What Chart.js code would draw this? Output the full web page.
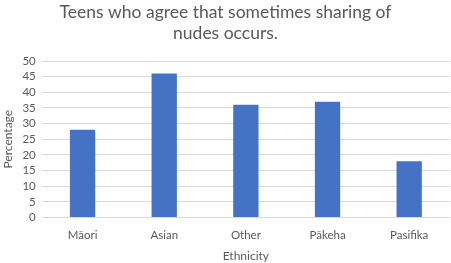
<!DOCTYPE html>
<html>
<head>
<meta charset="utf-8">
<script src="https://cdn.jsdelivr.net/npm/chart.js@4"></script>
<style>
  body { margin: 0; background: #fff; }
  #wrap { width: 451px; height: 263px; }
</style>
</head>
<body>
<div id="wrap"><canvas id="chart"></canvas></div>
<script>
// chart data
const categories = ['Māori', 'Asian', 'Other', 'Pākeha', 'Pasifika'];
const percentages = [28, 46, 36, 37, 18];
const yTicks = [0, 5, 10, 15, 20, 25, 30, 35, 40, 45, 50];

const textColor = '#595959';
const fontFamily = 'Lato, "Open Sans", sans-serif';

const ctx = document.getElementById('chart').getContext('2d');
new Chart(ctx, {
    type: 'bar',
    data: {
        labels: categories,
        datasets: [{
            data: percentages,
            backgroundColor: '#4472C4',
            barPercentage: 0.62,
            categoryPercentage: 0.5
        }]
    },
    options: {
        responsive: true,
        maintainAspectRatio: false,
        animation: false,
        layout: { padding: { left: 1, right: 1, top: 0, bottom: 1 } },
        plugins: {
            legend: { display: false },
            tooltip: { enabled: false },
            title: {
                display: true,
                text: ['Teens who agree that sometimes sharing of', 'nudes occurs.'],
                color: textColor,
                font: { family: fontFamily, size: 17.5, weight: 'normal' },
                lineHeight: 1.2,
                padding: { top: 2, bottom: 17 }
            }
        },
        scales: {
            x: {
                grid: { display: false },
                border: { display: false },
                ticks: { color: textColor, font: { family: fontFamily, size: 11.5, lineHeight: 1 }, padding: 4 },
                title: {
                    display: true,
                    text: 'Ethnicity',
                    color: textColor,
                    font: { family: fontFamily, size: 12, lineHeight: 1 },
                    padding: { top: 5, bottom: 0 }
                }
            },
            y: {
                min: 0,
                max: 50,
                afterBuildTicks: axis => { axis.ticks = yTicks.map(v => ({ value: v })); },
                grid: { color: '#d9d9d9', drawTicks: false },
                border: { display: false },
                ticks: { color: textColor, font: { family: fontFamily, size: 11.5 }, padding: 6, autoSkip: false },
                title: {
                    display: true,
                    text: 'Percentage',
                    color: textColor,
                    font: { family: fontFamily, size: 12 },
                    padding: { top: 0, bottom: 1 }
                }
            }
        }
    }
});
</script>
</body>
</html>
